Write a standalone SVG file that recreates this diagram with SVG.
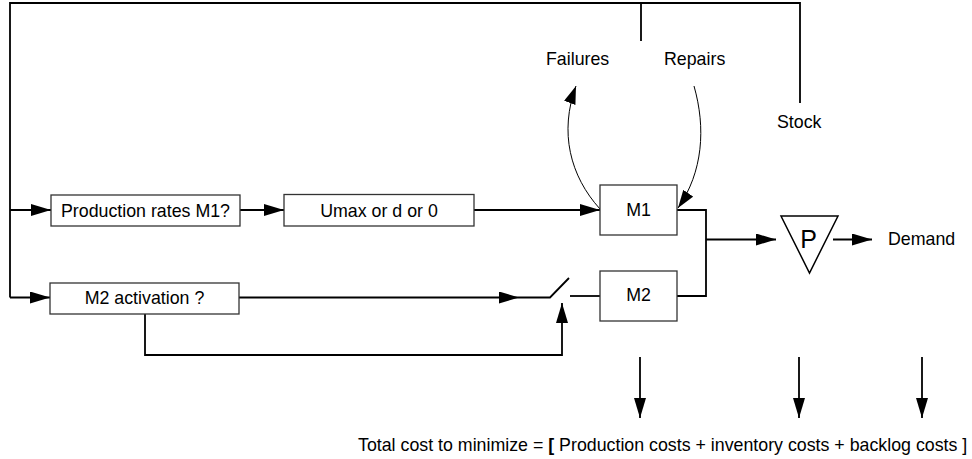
<svg xmlns="http://www.w3.org/2000/svg" width="972" height="459" viewBox="0 0 972 459">
  <style>
    text { font-family: "Liberation Sans", Arial, sans-serif; font-size: 17.8px; fill: #000; }
    .mid { text-anchor: middle; }
    .box { fill: #fff; stroke: #333; stroke-width: 1.3; }
    .wire { fill: none; stroke: #000; stroke-width: 1.8; }
    .thin { fill: none; stroke: #000; stroke-width: 1; }
    .arr { marker-end: url(#head); }
    .arrs { marker-end: url(#headSmall); }
  </style>
  <defs>
    <marker id="head" viewBox="0 0 20 12" refX="20" refY="6" markerWidth="20" markerHeight="12" markerUnits="userSpaceOnUse" orient="auto">
      <path d="M0,0 L20,6 L0,12 Z" fill="#000"/>
    </marker>
    <marker id="headSmall" viewBox="0 0 18 12" refX="18" refY="6" markerWidth="18" markerHeight="12" markerUnits="userSpaceOnUse" orient="auto">
      <path d="M0,0 L18,6 L0,12 Z" fill="#000"/>
    </marker>
  </defs>

  <rect width="972" height="459" fill="#fff"/>

  <g id="connectors">
    <!-- outer feedback frame -->
    <path class="wire" d="M10,297.5 V3 H800 V103"/>
    <path class="wire" d="M641,3 V41"/>
    <!-- branches into the decision boxes -->
    <path class="wire arr" d="M10,210 H51"/>
    <path class="wire arr" d="M10,297.5 H50"/>
    <!-- rate chain to M1 -->
    <path class="wire arr" d="M240,210 H284"/>
    <path class="wire arr" d="M474,210 H600"/>
    <!-- activation signal to the switch -->
    <path class="wire arr" d="M239,297.5 H519"/>
    <path class="wire" d="M519,297.5 H550 L569,278"/>
    <path class="wire" d="M570,296 H600"/>
    <path class="wire arr" d="M145,314 V355 H562 V303"/>
    <!-- machine outputs to the stock -->
    <path class="wire" d="M677,210 H706 V296 H677"/>
    <path class="wire arr" d="M706,239.5 H776"/>
    <path class="wire arr" d="M833,239.5 H872"/>
    <!-- failures and repairs -->
    <path class="thin arrs" d="M600,209 C570,176 559,132 576,86"/>
    <path class="thin arrs" d="M694,86 C706,128 703,172 678,208"/>
    <!-- cost arrows -->
    <path class="wire arr" d="M640,357 V418"/>
    <path class="wire arr" d="M799,357 V418"/>
    <path class="wire arr" d="M922,357 V418"/>
  </g>

  <g id="production-rates">
    <rect class="box" x="51" y="195" width="189" height="31"/>
    <text class="mid" x="145.5" y="216.5">Production rates M1?</text>
  </g>

  <g id="umax">
    <rect class="box" x="284" y="194.5" width="190" height="31.5"/>
    <text class="mid" x="379" y="216.5">Umax or d or 0</text>
  </g>

  <g id="m2-activation">
    <rect class="box" x="50" y="283" width="189" height="31"/>
    <text class="mid" x="144.5" y="304">M2 activation ?</text>
  </g>

  <g id="m1">
    <rect class="box" x="600" y="185" width="77" height="50"/>
    <text class="mid" x="638.5" y="215.5">M1</text>
  </g>

  <g id="m2">
    <rect class="box" x="600" y="271" width="77" height="50"/>
    <text class="mid" x="638.5" y="301">M2</text>
  </g>

  <g id="stock-p">
    <path d="M781,216 H838 L809.5,273 Z" fill="#fff" stroke="#000" stroke-width="1.5" stroke-linejoin="miter"/>
    <text class="mid" x="808.5" y="248" style="font-size:25px">P</text>
  </g>

  <g id="labels">
    <text x="546" y="64.5">Failures</text>
    <text x="664" y="64.5">Repairs</text>
    <text x="777" y="128">Stock</text>
    <text x="888" y="244.5">Demand</text>
    <text x="358" y="450.5">Total cost to minimize = <tspan font-weight="bold">[</tspan> Production costs + inventory costs + backlog costs ]</text>
  </g>
</svg>
